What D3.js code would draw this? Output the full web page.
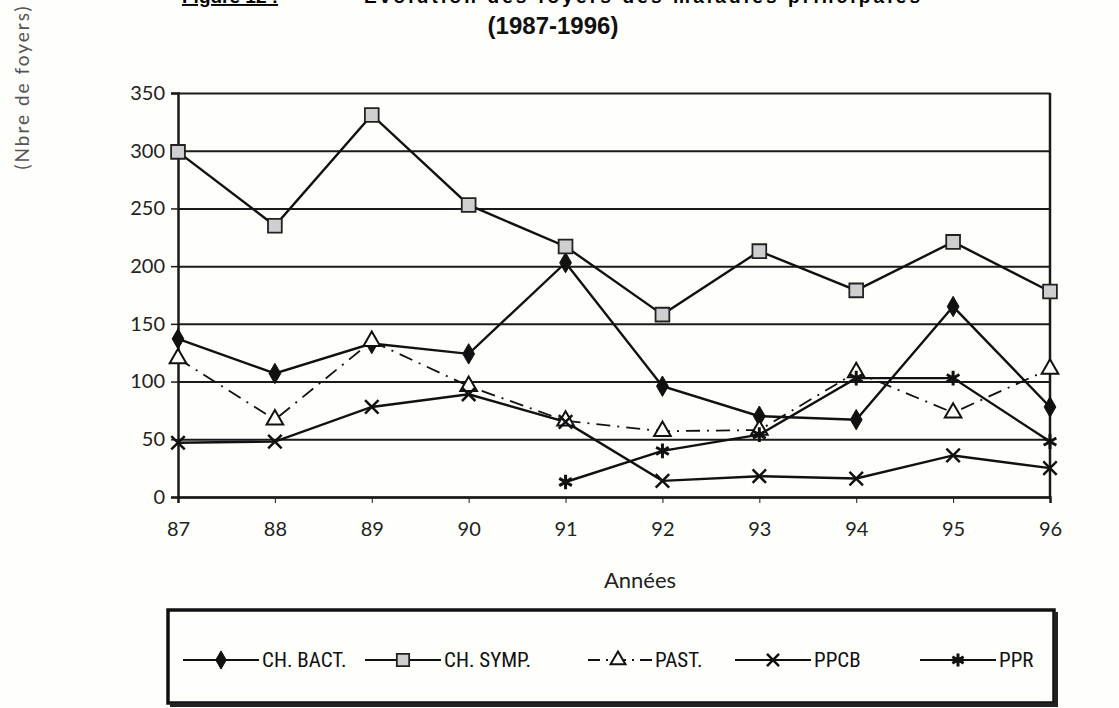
<!DOCTYPE html>
<html lang="fr">
<head>
<meta charset="utf-8">
<title>Foyers 1987-1996</title>
<script src="https://d3js.org/d3.v7.min.js"></script>
<style>
  body { margin: 0; background: #fefefb; }
  svg { display: block; background: #fefefb; }
  .tick text { font-family: Lato, "DejaVu Sans", sans-serif; fill: #222; }
  .grid line { stroke: #1a1a1a; stroke-width: 2px; }
  .grid path { display: none; }
  .legend text { font-family: "Liberation Sans Narrow", "Roboto Condensed", "DejaVu Sans Condensed", sans-serif; font-size: 21px; fill: #111; }
</style>
</head>
<body>
<div id="chart"></div>
<script>
// data
var years  = [87, 88, 89, 90, 91, 92, 93, 94, 95, 96];
var chBact = [137, 107, 133, 124, 203, 96, 70, 67, 165, 78];
var chSymp = [299, 235, 331, 253, 217, 158, 213, 179, 221, 178];
var past   = [120, 67, 135, 96, 66, 57, 58, 108, 73, 111];
var ppcb   = [47, 48, 78, 89, 65, 14, 18, 16, 36, 25];
var ppr    = [null, null, null, null, 13, 40, 54, 103, 103, 48];
var yTicks = [0, 50, 100, 150, 200, 250, 300, 350];
var seriesNames = ["CH. BACT.", "CH. SYMP.", "PAST.", "PPCB", "PPR"];

var W = 1119, H = 708;
var margin = {top: 93, right: 69, bottom: 211, left: 178};
var width = W - margin.left - margin.right;
var height = H - margin.top - margin.bottom;

var svg = d3.select("#chart").append("svg")
    .attr("width", W)
    .attr("height", H);

// title (its first line is cut off at the top of the scan)
svg.append("text")
    .attr("x", 182).attr("y", 3)
    .style("font-family", "Arial, 'Liberation Sans', sans-serif")
    .style("font-size", "19px").style("font-weight", "bold")
    .style("text-decoration", "underline")
    .text("Figure 12 :");
svg.append("text")
    .attr("x", 364).attr("y", 3)
    .style("font-family", "Arial, 'Liberation Sans', sans-serif")
    .style("font-size", "19px").style("font-weight", "bold")
    .attr("textLength", 556)
    .text("Evolution des foyers des maladies principales");
svg.append("text")
    .attr("x", 553).attr("y", 34)
    .attr("text-anchor", "middle")
    .style("font-family", "'Liberation Sans Narrow', Arial, sans-serif")
    .style("font-size", "24px").style("font-weight", "bold")
    .style("fill", "#111")
    .text("(1987-1996)");

// y axis title
svg.append("text")
    .attr("transform", "translate(29,87) rotate(-90)")
    .attr("text-anchor", "middle")
    .style("font-family", "Lato, 'DejaVu Sans', sans-serif")
    .style("font-size", "19px")
    .style("letter-spacing", "2px")
    .style("fill", "#555")
    .text("(Nbre de foyers)");

var g = svg.append("g")
    .attr("transform", "translate(" + margin.left + "," + margin.top + ")");

var x = d3.scaleLinear().domain([87, 96]).range([0, width]);
var y = d3.scaleLinear().domain([0, 350]).range([height, 0]);

// horizontal grid
g.append("g")
    .attr("class", "grid")
    .call(d3.axisLeft(y).tickValues(yTicks).tickSize(-width).tickFormat(""));

// y axis
var yAxis = g.append("g")
    .call(d3.axisLeft(y).tickValues(yTicks).tickSize(7).tickPadding(6));
yAxis.select(".domain").attr("stroke", "#1a1a1a").attr("stroke-width", 2.5);
yAxis.selectAll(".tick line").attr("stroke", "#1a1a1a").attr("stroke-width", 1.5);
yAxis.selectAll(".tick text").style("font-size", "20px");

// x axis
var xAxis = g.append("g")
    .attr("transform", "translate(0," + height + ")")
    .call(d3.axisBottom(x).tickValues(years).tickSize(6).tickPadding(19));
xAxis.select(".domain").attr("stroke", "#1a1a1a").attr("stroke-width", 2.5);
xAxis.selectAll(".tick line").attr("stroke", "#1a1a1a").attr("stroke-width", 1);
xAxis.selectAll(".tick text").style("font-size", "20px");

// right border of the plot
g.append("line")
    .attr("x1", x(96)).attr("x2", x(96))
    .attr("y1", y(350)).attr("y2", y(0))
    .attr("stroke", "#1a1a1a").attr("stroke-width", 2.5);

svg.append("text")
    .attr("x", 640).attr("y", 588)
    .attr("text-anchor", "middle")
    .style("font-family", "Lato, 'DejaVu Sans', sans-serif")
    .style("font-size", "22px")
    .style("fill", "#222")
    .text("Années");

// marker styles
var styles = [
  {values: chBact, dash: null, symbol: d3.symbolDiamond, size: 120, fill: "#111", stroke: "#111", sw: 1},
  {values: chSymp, dash: null, symbol: d3.symbolSquare, size: 190, fill: "#cfcfcf", stroke: "#222", sw: 1.8},
  {values: past, dash: "14,7,2,7", symbol: d3.symbolTriangle, size: 120, fill: "#fefefb", stroke: "#111", sw: 2},
  {values: ppcb, dash: null, symbol: d3.symbolX, size: 120, fill: "none", stroke: "#111", sw: 2.5},
  {values: ppr, dash: null, symbol: d3.symbolAsterisk, size: 150, fill: "none", stroke: "#111", sw: 3}
];

var line = d3.line()
    .defined(function(d) { return d.v != null; })
    .x(function(d) { return x(d.year); })
    .y(function(d) { return y(d.v); });

styles.forEach(function(s) {
  var pts = years.map(function(yr, i) { return {year: yr, v: s.values[i]}; });
  g.append("path")
      .datum(pts)
      .attr("fill", "none")
      .attr("stroke", "#111")
      .attr("stroke-width", s.dash ? 1.8 : 2.4)
      .attr("stroke-dasharray", s.dash)
      .attr("d", line);
});

styles.forEach(function(s) {
  var pts = years.map(function(yr, i) { return {year: yr, v: s.values[i]}; })
      .filter(function(d) { return d.v != null; });
  g.selectAll(null)
      .data(pts)
      .enter().append("path")
      .attr("transform", function(d) { return "translate(" + x(d.year) + "," + y(d.v) + ")"; })
      .attr("d", d3.symbol().type(s.symbol).size(s.size))
      .attr("fill", s.fill)
      .attr("stroke", s.stroke)
      .attr("stroke-width", s.sw);
});

// legend box
var legend = svg.append("g").attr("class", "legend");
legend.append("rect")
    .attr("x", 168).attr("y", 610)
    .attr("width", 886).attr("height", 93)
    .attr("fill", "#fefefb")
    .attr("stroke", "#111").attr("stroke-width", 3.5);
legend.append("path")
    .attr("d", "M1056,612 V705 H170")
    .attr("fill", "none")
    .attr("stroke", "#222").attr("stroke-width", 4);

var legendX = [183, 365, 588, 735, 920];
var ly = 660;
styles.forEach(function(s, i) {
  var x0 = legendX[i];
  var len = s.dash ? 64 : 76;
  var mx = s.dash ? x0 + 30 : x0 + 38;
  legend.append("line")
      .attr("x1", x0).attr("x2", x0 + len)
      .attr("y1", ly).attr("y2", ly)
      .attr("stroke", "#111")
      .attr("stroke-width", 2)
      .attr("stroke-dasharray", s.dash ? "12,6,2,6" : null);
  legend.append("path")
      .attr("transform", "translate(" + mx + "," + ly + ")")
      .attr("d", d3.symbol().type(s.symbol).size(s.size * 0.8))
      .attr("fill", s.fill)
      .attr("stroke", s.stroke)
      .attr("stroke-width", s.sw);
  legend.append("text")
      .attr("x", x0 + len + 3)
      .attr("y", ly + 7)
      .text(seriesNames[i]);
});
</script>
</body>
</html>
